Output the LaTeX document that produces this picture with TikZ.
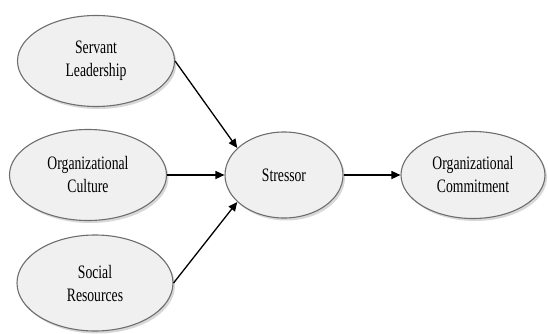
\documentclass[tikz,border=0pt]{standalone}
\usepackage{fontspec}
\setmainfont[FakeStretch=0.72]{Liberation Serif}
\usepackage{tikz}
\definecolor{ovalfill}{RGB}{240, 240, 240}
\definecolor{ovaldraw}{RGB}{110, 110, 110}
\usetikzlibrary{shapes.geometric, arrows.meta, shadows}

\begin{document}
\begin{tikzpicture}[x=1pt, y=-1pt,
        construct/.style={ellipse, draw=ovaldraw, fill=ovalfill, line width=1.1pt,
              inner sep=0pt, align=center, font=\fontsize{19}{23}\selectfont,
              drop shadow={shadow xshift=2pt, shadow yshift=-2.5pt, fill=black!30}},
        path/.style={draw=black, line width=1.3pt, -{Triangle[length=9pt, width=8pt]}}]
    \useasboundingbox (0,0) rectangle (548,334);

    \node[construct, minimum width=157pt, minimum height=91pt] (servant) at (96,61) {Servant\\Leadership};
    \node[construct, minimum width=157pt, minimum height=91pt] (culture) at (88,175) {Organizational\\Culture};
    \node[construct, minimum width=156pt, minimum height=96pt] (social) at (95,283) {Social\\Resources};
    \node[construct, minimum width=118pt, minimum height=86pt] (stressor) at (284,175) {Stressor};
    \node[construct, minimum width=144pt, minimum height=87pt] (commit) at (473,175) {Organizational\\Commitment};

    \draw[path] (servant.east) -- (stressor.150);
    \draw[path] (culture.east) -- (culture.east -| stressor.west);
    \draw[path] (social.east) -- (stressor.210);
    \draw[path] (stressor.east) -- (commit.west);
\end{tikzpicture}
\end{document}
